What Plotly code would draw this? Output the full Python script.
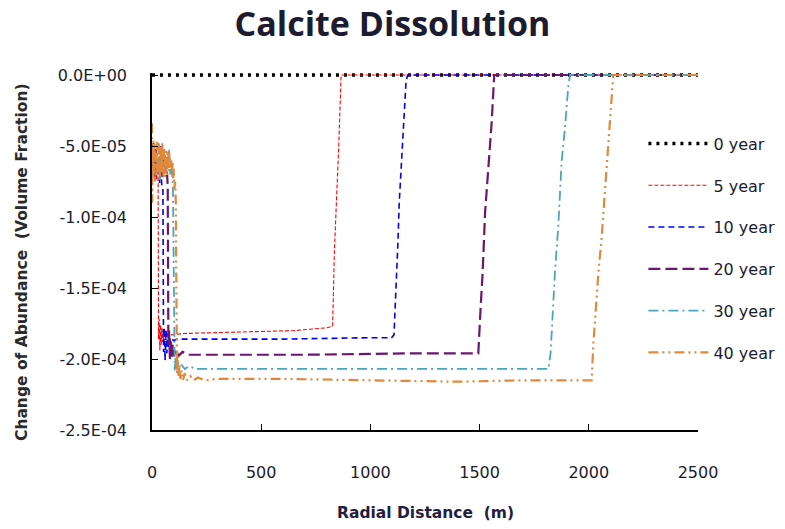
import plotly.graph_objects as go

# ---------------- data (values in units of 1e-4 volume fraction) ----------------
series_names = ["0 year", "5 year", "10 year", "20 year", "30 year", "40 year"]

y0_x = [0, 2500]
y0_v = [0.0, 0.0]

y5_x = [0, 4, 8, 12, 16, 20, 24, 28, 30, 33, 36, 39, 42, 45, 48, 51, 54, 57, 60, 64, 68,
        75, 90, 150, 400, 650, 800, 827, 835, 845, 855, 866, 900, 2500]
y5_v = [-0.62, -0.70, -0.58, -0.72, -0.65, -0.74, -0.60, -0.76, -1.86, -1.72, -1.94, -1.76,
        -1.90, -1.78, -1.88, -1.80, -1.86, -1.79, -1.84, -1.80, -1.83, -1.82, -1.83, -1.82,
        -1.81, -1.80, -1.78, -1.77, -1.25, -0.90, -0.50, 0.0, 0.0, 0.0]

y10_x = [0, 5, 10, 15, 20, 25, 30, 35, 40, 45, 50, 53, 56, 60, 64, 68, 72, 76, 80, 85, 90,
         100, 115, 200, 600, 1000, 1097, 1108, 1120, 1126, 1132, 1145, 1163, 1170, 2500]
y10_v = [-0.60, -0.68, -0.56, -0.74, -0.62, -0.70, -0.58, -0.76, -0.66, -0.78, -0.80, -1.95,
         -1.78, -2.01, -1.80, -1.96, -1.82, -1.92, -1.84, -1.89, -1.86, -1.87, -1.86, -1.86,
         -1.86, -1.85, -1.85, -1.83, -1.44, -1.18, -0.90, -0.55, -0.05, 0.0, 0.0]

y20_x = [0, 6, 12, 18, 24, 30, 36, 42, 48, 54, 60, 66, 72, 75, 78, 82, 86, 90, 95, 100, 110,
         120, 140, 170, 250, 700, 1200, 1494, 1505, 1514, 1525, 1535, 1555, 1567, 2500]
y20_v = [-0.55, -0.48, -0.66, -0.52, -0.70, -0.58, -0.64, -0.50, -0.72, -0.60, -0.68, -0.62,
         -0.78, -1.90, -1.80, -2.00, -1.86, -1.99, -1.90, -1.98, -1.93, -1.98, -1.95, -1.97,
         -1.97, -1.97, -1.96, -1.96, -1.63, -1.39, -0.97, -0.76, -0.34, 0.0, 0.0]

y30_x = [0, 6, 12, 18, 24, 30, 36, 42, 48, 54, 60, 66, 72, 78, 84, 90, 96, 100, 104, 108,
         113, 118, 125, 135, 150, 170, 200, 400, 1000, 1500, 1815, 1825, 1845, 1860, 1876,
         1891, 1906, 1914, 2500]
y30_v = [-0.62, -0.50, -0.70, -0.56, -0.66, -0.48, -0.74, -0.58, -0.64, -0.54, -0.72, -0.60,
         -0.66, -0.52, -0.70, -0.62, -0.80, -1.50, -2.08, -1.98, -2.10, -2.02, -2.08, -2.04,
         -2.07, -2.05, -2.07, -2.07, -2.07, -2.07, -2.07, -1.96, -1.39, -1.07, -0.60, -0.37,
         -0.08, 0.0, 0.0]

y40_x = [0, 1, 3, 5, 7, 9, 11, 13, 15, 17, 19, 21, 23, 25, 27, 29, 31, 33, 35, 37, 39, 41,
         43, 45, 47, 49, 51, 53, 55, 57, 59, 61, 63, 65, 67, 69, 71, 73, 75, 77, 79, 81, 83,
         85, 88, 91, 94, 97, 100, 103, 106, 109, 112, 115, 118, 122, 126, 130, 136, 142, 150,
         160, 175, 190, 210, 240, 300, 600, 1000, 1400, 1700, 2013, 2021, 2044, 2059, 2074,
         2090, 2112, 2500]
y40_v = [-0.34, -0.90, -0.50, -0.72, -0.46, -0.68, -0.52, -0.75, -0.48, -0.66, -0.55, -0.70,
         -0.47, -0.64, -0.53, -0.73, -0.49, -0.62, -0.56, -0.71, -0.50, -0.67, -0.54, -0.69,
         -0.48, -0.63, -0.57, -0.72, -0.51, -0.66, -0.55, -0.70, -0.52, -0.64, -0.58, -0.71,
         -0.53, -0.66, -0.56, -0.68, -0.55, -0.62, -0.58, -0.66, -0.60, -0.70, -0.62, -0.74,
         -0.66, -0.80, -0.74, -0.90, -1.60, -2.10, -1.98, -2.12, -2.04, -2.14, -2.08, -2.15,
         -2.10, -2.15, -2.12, -2.15, -2.13, -2.15, -2.14, -2.14, -2.15, -2.16, -2.15, -2.15,
         -1.89, -1.39, -1.14, -0.83, -0.48, 0.0, 0.0]

x_tick_vals = [0, 500, 1000, 1500, 2000, 2500]
x_tick_text = ["0", "500", "1000", "1500", "2000", "2500"]
y_tick_vals = [0.0, -0.5, -1.0, -1.5, -2.0, -2.5]
y_tick_text = ["0.0E+00", "-5.0E-05", "-1.0E-04", "-1.5E-04", "-2.0E-04", "-2.5E-04"]

SCALE = 1e-4
xs = [y0_x, y5_x, y10_x, y20_x, y30_x, y40_x]
vs = [y0_v, y5_v, y10_v, y20_v, y30_v, y40_v]

styles = [
    dict(color="#000000", width=3.5, dash="3px,5px"),
    dict(color="#FF0000", width=1.1, dash="4px,2px"),
    dict(color="#0000EE", width=1.6, dash="6px,4px"),
    dict(color="#6B1670", width=2.2, dash="12px,5px"),
    dict(color="#4BA5B8", width=1.8, dash="10px,4px,2px,4px"),
    dict(color="#E0893C", width=2.2, dash="10px,4px,2px,4px,2px,4px"),
]

TXT = "#1c1c2e"
fig = go.Figure()
for name, x, v, st in zip(series_names, xs, vs, styles):
    fig.add_trace(go.Scatter(
        x=x, y=[val * SCALE for val in v], mode="lines", name=name,
        legendgroup=name, line=st,
    ))

fig.update_layout(
    width=785, height=529,
    margin=dict(l=152, r=87, t=73, b=99, autoexpand=False),
    paper_bgcolor="white", plot_bgcolor="white",
    title=dict(text="<b>Calcite Dissolution</b>", x=0.5, xref="container", xanchor="center",
               y=1 - 24 / 529, yref="container", yanchor="middle",
               font=dict(family="Open Sans", size=34, color=TXT)),
    showlegend=True,
    legend=dict(x=0.9, xanchor="left", y=0.85, yanchor="top",
                font=dict(family="DejaVu Sans", size=16, color=TXT),
                tracegroupgap=18, itemwidth=60, bgcolor="rgba(0,0,0,0)",
                traceorder="grouped"),
    font=dict(family="DejaVu Sans", color=TXT),
)

fig.update_xaxes(
    range=[0, 2500], tickvals=x_tick_vals, ticktext=x_tick_text,
    showline=True, linecolor="black", linewidth=1.5, showgrid=False, zeroline=False,
    ticks="inside", ticklen=6, tickcolor="black", tickwidth=1.3,
    tickfont=dict(family="DejaVu Sans", size=16, color=TXT),
    ticklabelstandoff=27,
)
fig.update_yaxes(
    range=[-2.5e-4, 1.408e-6], tickvals=[v * SCALE for v in y_tick_vals], ticktext=y_tick_text,
    showline=True, linecolor="black", linewidth=1.5, showgrid=False, zeroline=False,
    ticks="inside", ticklen=6, tickcolor="black", tickwidth=1.3,
    tickfont=dict(family="DejaVu Sans", size=16, color=TXT),
    ticklabelstandoff=20,
)

fig.add_annotation(text="<b>Change of Abundance  (Volume Fraction)</b>", textangle=-90,
                   xref="paper", yref="paper", x=(22 - 152) / 546, y=(430 - 262) / 357,
                   xanchor="center", yanchor="middle", showarrow=False,
                   font=dict(family="DejaVu Sans", size=15.5, color="#2a2a2a"))
fig.add_annotation(text="<b>Radial Distance  (m)</b>",
                   xref="paper", yref="paper", x=0.5, y=(430 - 513) / 357,
                   xanchor="center", yanchor="middle", showarrow=False,
                   font=dict(family="DejaVu Sans", size=15.5, color="#1f2040"))

fig.write_html("out.html")
